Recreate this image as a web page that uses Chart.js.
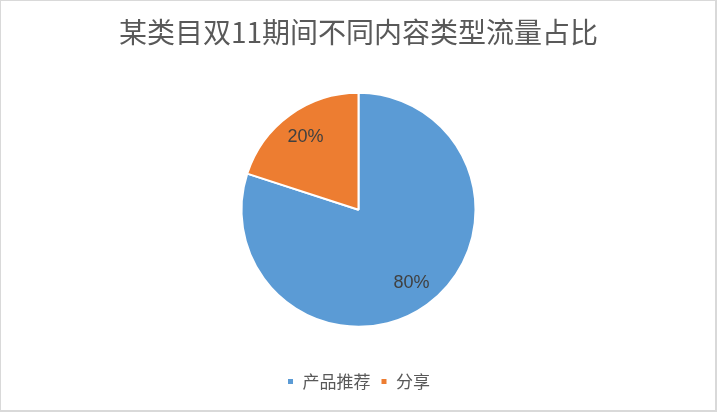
<!DOCTYPE html>
<html lang="zh">
<head>
    <meta charset="UTF-8">
    <title>pie</title>
    <script src="https://cdn.jsdelivr.net/npm/chart.js@4.4.1/dist/chart.umd.min.js"></script>
    <style>
        *{margin:0; padding:0;}
        body{background:#fff;}
        #wrap{width:717px; height:412px; position:relative;}
        #wrap .frame{position:absolute; left:0; top:0; right:0; bottom:0; border-left:1px solid #d9d9d9; border-top:1px solid #d9d9d9; border-right:2px solid #d9d9d9; border-bottom:2px solid #d9d9d9; pointer-events:none;}
    </style>
</head>
<body>
    <div id="wrap">
        <canvas id="pieChart" width="717" height="412"></canvas>
        <div class="frame"></div>
    </div>

    <script>
        const chartTitle = '某类目双11期间不同内容类型流量占比'
        const categories = ['产品推荐', '分享']
        const shares = [80, 20]
        const colors = ['#5B9BD5', '#ED7D31']

        const fontFamily = '"Noto Sans CJK SC", "Noto Sans", sans-serif'

        // percent labels inside the slices
        const sliceLabels = {
            id:'sliceLabels',
            afterDatasetsDraw:function(chart){
                const ctx = chart.ctx
                const meta = chart.getDatasetMeta(0)
                const total = shares.reduce(function(a, b){ return a + b }, 0)
                ctx.save()
                ctx.font = '18px "Liberation Sans", Arial, sans-serif'
                ctx.fillStyle = '#404040'
                ctx.textAlign = 'center'
                ctx.textBaseline = 'middle'
                meta.data.forEach(function(arc, i){
                    const p = arc.getProps(['x', 'y', 'startAngle', 'endAngle', 'outerRadius'], true)
                    const mid = (p.startAngle + p.endAngle) / 2
                    const r = p.outerRadius * 0.77
                    const txt = Math.round(shares[i] / total * 100) + '%'
                    ctx.fillText(txt, p.x + Math.cos(mid) * r, p.y + Math.sin(mid) * r)
                })
                ctx.restore()
            }
        }

        const config = {
            type:'pie',
            data:{
                labels:categories,
                datasets:[
                    {
                        data:shares,
                        backgroundColor:colors,
                        borderColor:'#fff',
                        borderWidth:2
                    }
                ]
            },
            options:{
                responsive:false,
                animation:false,
                radius:117,
                layout:{padding:{left:0, right:0, top:0, bottom:12}},
                plugins:{
                    title:{
                        display:true,
                        text:chartTitle,
                        color:'#595959',
                        font:{family:fontFamily, size:28, weight:'normal'},
                        padding:{top:16, bottom:7}
                    },
                    legend:{
                        display:true,
                        position:'bottom',
                        labels:{
                            color:'#595959',
                            font:{family:fontFamily, size:17},
                            boxWidth:7,
                            boxHeight:7,
                            padding:10
                        }
                    },
                    tooltip:{enabled:false}
                }
            },
            plugins:[sliceLabels]
        }

        const ctx = document.querySelector('#pieChart').getContext('2d')
        const pieChart = new Chart(ctx, config)
    </script>
</body>
</html>
